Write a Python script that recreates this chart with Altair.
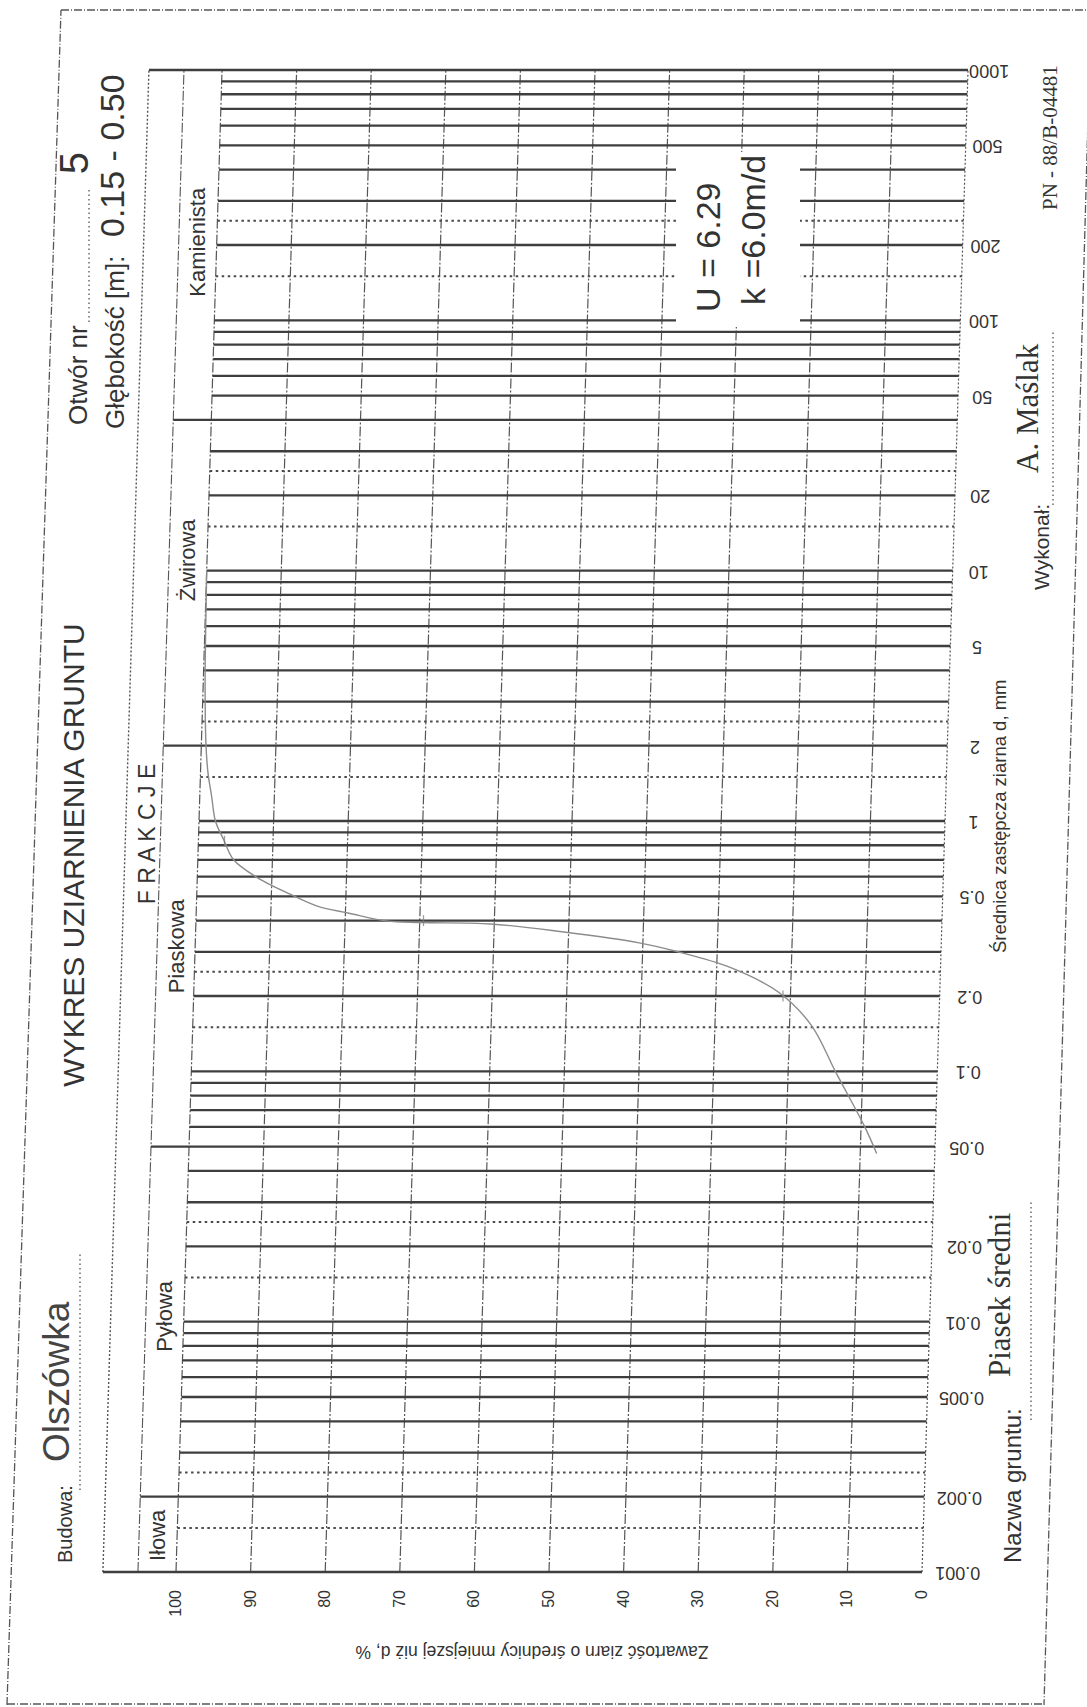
import math
import altair as alt
import pandas as pd

# ---------------------------------------------------------------- data
PCT_TICKS = [0, 10, 20, 30, 40, 50, 60, 70, 80, 90, 100]

# log paper: full lines at 1..9 x decade, dotted helper lines at 1.5 and 2.5
DECADES = [0.001, 0.01, 0.1, 1, 10, 100]
MULTIPLIERS = [1, 2, 3, 4, 5, 6, 7, 8, 9]
HELPER_MULTIPLIERS = [1.5, 2.5]

DIAM_LABEL_VALUES = [0.001, 0.002, 0.005, 0.01, 0.02, 0.05, 0.1, 0.2, 0.5,
                     1, 2, 5, 10, 20, 50, 100, 200, 500, 1000]
DIAM_LABEL_TEXT = ["0.001", "0.002", "0.005", "0.01", "0.02", "0.05", "0.1",
                   "0.2", "0.5", "1", "2", "5", "10", "20", "50", "100",
                   "200", "500", "1000"]

FRACTION_NAMES = ["Iłowa", "Pyłowa", "Piaskowa", "Żwirowa", "Kamienista"]
FRACTION_LIMITS = [0.001, 0.002, 0.05, 2, 40, 1000]

# grading curve: grain diameter [mm] and passing percentage [%]
CURVE_D = [0.047, 0.060, 0.099, 0.153, 0.207, 0.260, 0.301, 0.326, 0.361,
           0.388, 0.393, 0.399, 0.428, 0.457, 0.51, 0.60, 0.70, 0.84, 1.0,
           1.25, 1.56, 2.06, 4.0, 10.0]
CURVE_PCT = [7.8, 9.5, 13.6, 17.1, 21.6, 28.2, 35.4, 40.5, 50.9,
             60.5, 69.9, 74.5, 79.5, 83.8, 87.5, 92.2, 95.2, 96.6, 97.8,
             98.4, 99.0, 99.4, 99.8, 100.0]
MARK_D = [0.2, 0.4, 0.83]
MARK_PCT = [21.0, 69.5, 96.5]

# ---------------------------------------------------------------- layout / style
W, H = 746, 1502
LEFT, TOP = 176, 70
SKEW = 6.17            # sheet skew, in percent units over the full height
BAND_INNER = 105.1     # fraction column, inner edge
BAND_OUTER = 109.8     # fraction column, outer edge
BAND_TEXT = 102.5      # fraction names sit between the column and the 100 % line
LABEL_POS = -4.8       # diameter labels, right of the 0 % line
LABEL_SKEW = 4.2
NAME_ANCHORS = [0.0014, 0.0105, 0.316, 11.0, 205.0]   # where each fraction name is centred

FR = "'Liberation Sans', Arial, sans-serif"
FS = "'Liberation Serif', 'Times New Roman', serif"
INK = "#333333"
LINE = "#3e3e3e"

XS = alt.Scale(domain=[0, 100], reverse=True, nice=False, zero=False)
YS = alt.Scale(type="log", domain=[0.001, 1000], nice=False)


def lift(d):
    return (math.log10(d) + 3) / 6


def sheared(pct, d):
    return pct - SKEW * lift(d)


# ---------------------------------------------------------------- tables
solid, dotted = [], []
for dec in DECADES:
    for m in MULTIPLIERS:
        solid.append(round(m * dec, 6))
    for m in HELPER_MULTIPLIERS:
        dotted.append(round(m * dec, 6))
solid.append(1000)

h_rows = []
for d in solid:
    start = 100
    if d in FRACTION_LIMITS[1:-1]:
        start = BAND_INNER
    if d in (FRACTION_LIMITS[0], FRACTION_LIMITS[-1]):
        start = BAND_OUTER
    h_rows.append({"d": d, "a": sheared(start, d), "b": sheared(0, d)})
h_solid = pd.DataFrame(h_rows)
h_dotted = pd.DataFrame([{"d": d, "a": sheared(100, d), "b": sheared(0, d)}
                         for d in dotted])

v_lines = pd.DataFrame([{"a": p, "b": p - SKEW, "y0": 0.001, "y1": 1000,
                         "kind": "edge" if p == 0 else "grid"}
                        for p in PCT_TICKS])
band = pd.DataFrame([{"a": BAND_INNER, "b": BAND_INNER - SKEW, "y0": 0.001,
                      "y1": 1000, "kind": "inner"},
                     {"a": BAND_OUTER, "b": BAND_OUTER - SKEW, "y0": 0.001,
                      "y1": 1000, "kind": "outer"}])

curve = pd.DataFrame({"i": range(len(CURVE_D)), "d": CURVE_D, "pct": CURVE_PCT})
curve["x"] = [sheared(p, d) for p, d in zip(CURVE_PCT, CURVE_D)]
marks = pd.DataFrame({"d": MARK_D, "pct": MARK_PCT})
marks["x"] = [sheared(p, d) for p, d in zip(MARK_PCT, MARK_D)]

d_labels = pd.DataFrame({"d": DIAM_LABEL_VALUES, "t": DIAM_LABEL_TEXT})
d_labels["x"] = [LABEL_POS - LABEL_SKEW * lift(d) for d in DIAM_LABEL_VALUES]

p_labels = pd.DataFrame({"p": PCT_TICKS, "t": [str(p) for p in PCT_TICKS]})

fr = pd.DataFrame({"name": FRACTION_NAMES, "d": NAME_ANCHORS})
fr["x"] = [sheared(BAND_TEXT, d) for d in fr["d"]]

# ---------------------------------------------------------------- layers
vert = alt.Chart(v_lines).mark_rule(strokeWidth=1.2, color="#555").encode(
    x=alt.X("a:Q", scale=XS, axis=None),
    x2="b:Q",
    y=alt.Y("y0:Q", scale=YS, axis=None),
    y2="y1:Q",
    strokeDash=alt.StrokeDash("kind:N", scale=alt.Scale(
        domain=["grid", "edge"], range=[[10, 2, 2, 2], [2, 2]]), legend=None),
)

band_lines = alt.Chart(band).mark_rule(color="#555").encode(
    x=alt.X("a:Q", scale=XS, axis=None), x2="b:Q",
    y=alt.Y("y0:Q", scale=YS, axis=None), y2="y1:Q",
    strokeDash=alt.StrokeDash("kind:N", scale=alt.Scale(
        domain=["inner", "outer"], range=[[7, 3], [14, 2]]), legend=None),
    strokeWidth=alt.StrokeWidth("kind:N", scale=alt.Scale(
        domain=["inner", "outer"], range=[1.1, 1.4]), legend=None),
)

h_full = alt.Chart(h_solid).mark_rule(strokeWidth=2.3, color=LINE).encode(
    x=alt.X("a:Q", scale=XS, axis=None), x2="b:Q",
    y=alt.Y("d:Q", scale=YS, axis=None),
)
h_dots = alt.Chart(h_dotted).mark_rule(strokeWidth=2.0, color="#4a4a4a",
                                      strokeDash=[2.5, 3.5]).encode(
    x=alt.X("a:Q", scale=XS, axis=None), x2="b:Q",
    y=alt.Y("d:Q", scale=YS, axis=None),
)

ONE = pd.DataFrame({"k": [0]})


def note(text, x, y, size, font=FR, angle=270, align="left", color=INK,
         baseline="middle"):
    return alt.Chart(ONE).mark_text(
        text=text, font=font, fontSize=size, angle=angle, align=align,
        baseline=baseline, color=color,
    ).encode(x=alt.value(x - LEFT), y=alt.value(y - TOP))


def vrule(x, y0, y1, dash, width=1.3, color="#555", x2=None):
    enc = dict(x=alt.value(x - LEFT), y=alt.value(y0 - TOP),
               y2=alt.value(y1 - TOP))
    if x2 is not None:
        enc["x2"] = alt.value(x2 - LEFT)
    return alt.Chart(ONE).mark_rule(strokeDash=dash, strokeWidth=width,
                                    color=color).encode(**enc)


def hrule(y, x0, x1, dash, width=1.3, color="#555"):
    return alt.Chart(ONE).mark_rule(strokeDash=dash, strokeWidth=width,
                                    color=color).encode(
        x=alt.value(x0 - LEFT), x2=alt.value(x1 - LEFT), y=alt.value(y - TOP))


# white panel carrying the permeability figures
panel = alt.Chart(ONE).mark_rect(color="white").encode(
    x=alt.value(676 - LEFT), x2=alt.value(800 - LEFT),
    y=alt.value(152 - TOP), y2=alt.value(327 - TOP))

grading = alt.Chart(curve).mark_line(
    interpolate="catmull-rom", color="#8c8c8c", strokeWidth=1.4).encode(
    x=alt.X("x:Q", scale=XS, axis=None),
    y=alt.Y("d:Q", scale=YS, axis=None), order="i:Q")

point_marks = alt.Chart(marks).mark_tick(
    orient="vertical", size=11, thickness=1.3, color="#777").encode(
    x=alt.X("x:Q", scale=XS, axis=None), y=alt.Y("d:Q", scale=YS, axis=None))

diam_text = alt.Chart(d_labels).mark_text(
    font=FR, fontSize=18, angle=180, align="center", baseline="middle",
    color=INK).encode(
    x=alt.X("x:Q", scale=XS, axis=None),
    y=alt.Y("d:Q", scale=YS, axis=None), text="t:N")

pct_text = alt.Chart(p_labels).mark_text(
    font=FR, fontSize=16, angle=270, align="right", baseline="middle",
    color=INK).encode(
    x=alt.X("p:Q", scale=XS, axis=None),
    y=alt.value(1590 - TOP), text="t:N")

fraction_text = alt.Chart(fr).mark_text(
    font=FR, fontSize=22, angle=270, align="center", baseline="middle",
    color=INK).encode(
    x=alt.X("x:Q", scale=XS, axis=None),
    y=alt.Y("d:Q", scale=YS, axis=None), text="name:N")

texts = [
    note("Budowa:", 66, 1563, 20),
    note("Olszówka", 58, 1462, 37, color="#444"),
    note("WYKRES UZIARNIENIA GRUNTU", 75, 855, 30, align="center"),
    note("F R A K C J E", 148, 834, 23, align="center"),
    note("Otwór nr", 79, 425, 26),
    note("5", 76, 163, 40, align="center"),
    note("Głębokość [m]:", 116, 429, 26),
    note("0.15  -  0.50", 114, 237, 34),
    note("U = 6.29", 710, 312, 34),
    note("k =6.0m/d", 755, 305, 34),
    note("Średnica zastępcza ziarna  d, mm", 1000, 953, 18.5),
    note("Wykonał:", 1043, 590, 21),
    note("A. Maślak", 1029, 473, 31, font=FS),
    note("PN - 88/B-04481", 1051, 210, 21, font=FS),
    note("Nazwa gruntu:", 1014, 1563, 24),
    note("Piasek średni", 1001, 1377, 31, font=FS),
    note("Zawartość ziarn o średnicy mniejszej niż d, %", 532, 1651, 17.5,
         angle=180, align="center"),
]

leaders = [
    vrule(80, 1490, 1253, [1.5, 3]),
    vrule(89, 322, 190, [1.5, 3]),
    vrule(1053, 505, 330, [1.5, 3]),
    vrule(1031, 1420, 1200, [1.5, 3]),
]

frame = [
    vrule(7, 1705, 10, [8, 2, 1, 2], x2=61),
    vrule(1091, 10, 1705, [8, 2, 1, 2], x2=1044),
    hrule(10, 61, 1087, [8, 2, 1, 2]),
    hrule(1704, 7, 1044, [8, 2, 1, 2]),
]

chart = alt.layer(
    vert, band_lines, h_dots, h_full, *frame, panel, grading, point_marks,
    diam_text, pct_text, fraction_text, *texts, *leaders,
).properties(
    width=W, height=H,
    padding={"left": LEFT, "top": TOP, "right": 1087 - LEFT - W,
             "bottom": 1707 - TOP - H},
    autosize=alt.AutoSizeParams(type="none"),
    background="white",
).configure_view(stroke=None)

chart.save("out.html", embed_options={"renderer": "svg", "actions": False})
